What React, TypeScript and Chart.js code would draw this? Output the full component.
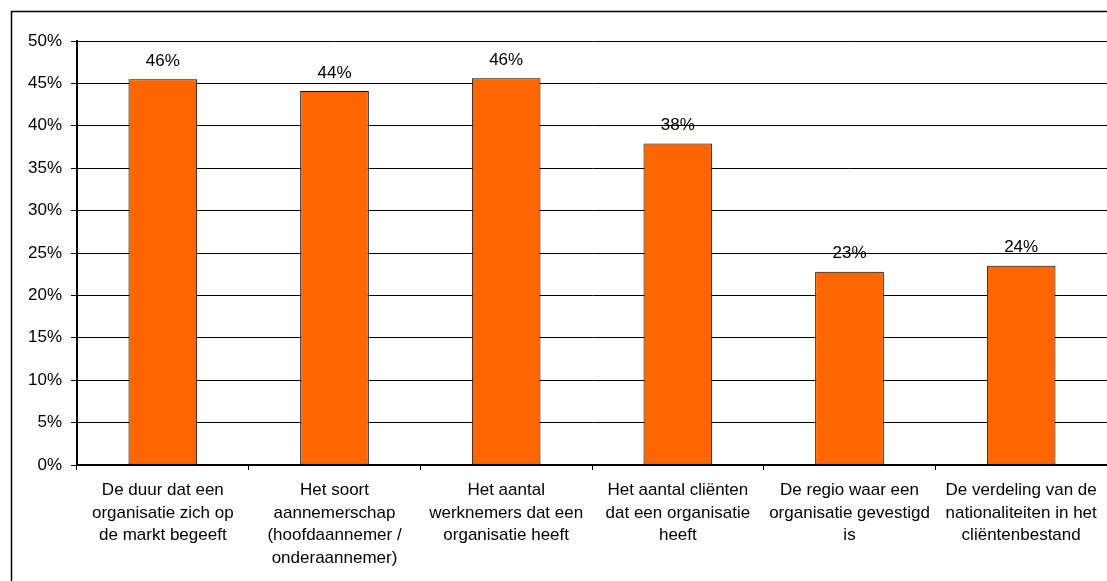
import React, { useEffect, useRef } from "react";
import { Chart, registerables } from "chart.js";

Chart.register(...registerables);

const categories: string[][] = [
  ["De duur dat een", "organisatie zich op", "de markt begeeft"],
  ["Het soort", "aannemerschap", "(hoofdaannemer /", "onderaannemer)"],
  ["Het aantal", "werknemers dat een", "organisatie heeft"],
  ["Het aantal cliënten", "dat een organisatie", "heeft"],
  ["De regio waar een", "organisatie gevestigd", "is"],
  ["De verdeling van de", "nationaliteiten in het", "cliëntenbestand"],
];
const values: number[] = [45.5, 44.1, 45.6, 37.9, 22.8, 23.5];
const valueLabels: string[] = ["46%", "44%", "46%", "38%", "23%", "24%"];
const yTicks: number[] = [0, 5, 10, 15, 20, 25, 30, 35, 40, 45, 50];

const FONT = "'Liberation Sans', Arial, sans-serif";

const framePlugin = {
  id: "frame",
  beforeDraw(chart: any) {
    const ctx = chart.ctx;
    ctx.save();
    ctx.fillStyle = "#ffffff";
    ctx.fillRect(0, 0, chart.width, chart.height);
    ctx.strokeStyle = "#000000";
    ctx.lineWidth = 1.5;
    ctx.beginPath();
    ctx.moveTo(11.5, chart.height + 5);
    ctx.lineTo(11.5, 11.5);
    ctx.lineTo(chart.width + 5, 11.5);
    ctx.stroke();
    ctx.restore();
  },
};

const labelPlugin = {
  id: "valueLabels",
  afterDatasetsDraw(chart: any) {
    const ctx = chart.ctx;
    const meta = chart.getDatasetMeta(0);
    ctx.save();
    ctx.font = `17px ${FONT}`;
    ctx.fillStyle = "#000000";
    ctx.textAlign = "center";
    ctx.textBaseline = "middle";
    meta.data.forEach((bar: any, i: number) => {
      ctx.fillText(valueLabels[i], bar.x, bar.y - 18);
    });
    ctx.restore();
  },
};

export default function App() {
  const ref = useRef<HTMLCanvasElement>(null);
  useEffect(() => {
    if (!ref.current) return;
    const chart = new Chart(ref.current, {
      type: "bar",
      data: {
        labels: categories,
        datasets: [
          {
            data: values,
            backgroundColor: "#FF6600",
            borderColor: "#000000",
            borderWidth: 1,
            borderSkipped: false,
            barPercentage: 0.4,
            categoryPercentage: 1,
          },
        ],
      },
      options: {
        animation: false,
        responsive: false,
        devicePixelRatio: 1,
        layout: { padding: { left: 0, right: 0, top: 41, bottom: 0 } },
        plugins: {
          legend: { display: false },
          tooltip: { enabled: false },
          title: { display: false },
        },
        scales: {
          x: {
            offset: true,
            grid: {
              offset: true,
              drawOnChartArea: false,
              drawTicks: true,
              tickLength: 5,
              color: "#000000",
              lineWidth: 1,
            },
            border: { display: true, color: "#000000", width: 2 },
            ticks: {
              color: "#000000",
              font: { family: FONT, size: 17, lineHeight: 1.33 },
              padding: 9,
              maxRotation: 0,
              minRotation: 0,
              autoSkip: false,
            },
            afterFit(scale: any) {
              scale.height = 116;
            },
          },
          y: {
            min: 0,
            max: 50,
            afterBuildTicks(scale: any) {
              scale.ticks = yTicks.map((v) => ({ value: v }));
            },
            grid: {
              color: "#000000",
              lineWidth: 1,
              tickLength: 6,
              drawTicks: true,
            },
            border: { display: true, color: "#000000", width: 2 },
            ticks: {
              color: "#000000",
              font: { family: FONT, size: 17 },
              padding: 9,
              callback: (v: any) => `${v}%`,
            },
            afterFit(scale: any) {
              scale.width = 77;
            },
          },
        },
      },
      plugins: [framePlugin, labelPlugin],
    });
    return () => chart.destroy();
  }, []);
  return (
    <div style={{ position: "fixed", left: 0, top: 0, width: 1107, height: 581, background: "#fff" }}>
      <canvas ref={ref} width={1107} height={581} style={{ width: 1107, height: 581, display: "block" }} />
    </div>
  );
}
